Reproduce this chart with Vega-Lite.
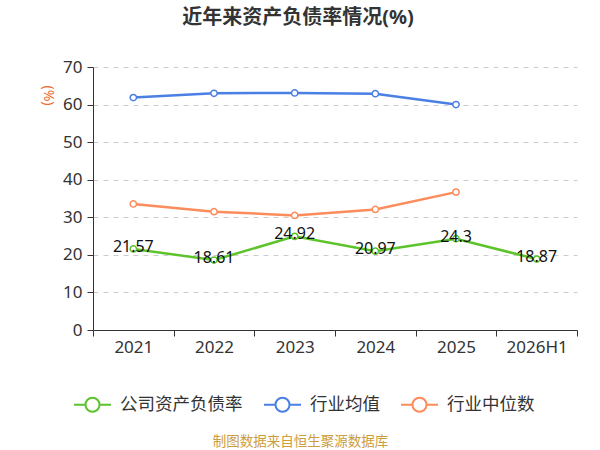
{
  "$schema": "https://vega.github.io/schema/vega-lite/v6.json",
  "autosize": "none",
  "width": 484,
  "height": 263,
  "padding": {"left": 93, "top": 67, "right": 23, "bottom": 120},
  "background": "white",
  "title": {
    "text": "近年来资产负债率情况(%)",
    "anchor": "middle",
    "frame": "group",
    "dx": -37,
    "offset": 30,
    "fontSize": 20,
    "fontWeight": "bold",
    "color": "#333333"
  },
  "data": {
    "values": [
      {"year": "2021", "series": "公司资产负债率", "value": 21.57},
      {"year": "2022", "series": "公司资产负债率", "value": 18.61},
      {"year": "2023", "series": "公司资产负债率", "value": 24.92},
      {"year": "2024", "series": "公司资产负债率", "value": 20.97},
      {"year": "2025", "series": "公司资产负债率", "value": 24.3},
      {"year": "2026H1", "series": "公司资产负债率", "value": 18.87},
      {"year": "2021", "series": "行业均值", "value": 61.86},
      {"year": "2022", "series": "行业均值", "value": 63.0},
      {"year": "2023", "series": "行业均值", "value": 63.1},
      {"year": "2024", "series": "行业均值", "value": 62.9},
      {"year": "2025", "series": "行业均值", "value": 60.0},
      {"year": "2021", "series": "行业中位数", "value": 33.55},
      {"year": "2022", "series": "行业中位数", "value": 31.5},
      {"year": "2023", "series": "行业中位数", "value": 30.5},
      {"year": "2024", "series": "行业中位数", "value": 32.1},
      {"year": "2025", "series": "行业中位数", "value": 36.7}
    ]
  },
  "encoding": {
    "x": {
      "field": "year",
      "type": "ordinal",
      "sort": ["2021", "2022", "2023", "2024", "2025", "2026H1"],
      "scale": {"type": "band", "paddingInner": 0, "paddingOuter": 0},
      "axis": {
        "title": "制图数据来自恒生聚源数据库",
        "titleX": 207,
        "titleY": 111,
        "titleAlign": "center",
        "titleBaseline": "middle",
        "titleAnchor": null,
        "titleColor": "#cc9d3e",
        "titleFontSize": 13.5,
        "titleFontWeight": "normal",
        "labelAngle": 0,
        "labelFontSize": 17,
        "labelColor": "#333333",
        "labelPadding": 3,
        "tickBand": "extent",
        "tickSize": 6,
        "tickColor": "#333333",
        "domainColor": "#333333",
        "grid": false
      }
    },
    "y": {
      "field": "value",
      "type": "quantitative",
      "scale": {"domain": [0, 70], "nice": false},
      "axis": {
        "title": "(%)",
        "titleAngle": 90,
        "titleX": -46,
        "titleY": 28,
        "titleAlign": "center",
        "titleBaseline": "middle",
        "titleAnchor": null,
        "titleColor": "#ee6a30",
        "titleFontSize": 14,
        "titleFontWeight": "normal",
        "values": [0, 10, 20, 30, 40, 50, 60, 70],
        "labelFontSize": 17,
        "labelColor": "#333333",
        "labelPadding": 5,
        "tickSize": 6,
        "tickColor": "#333333",
        "domainColor": "#333333",
        "grid": true,
        "gridColor": "#cccccc",
        "gridDash": [5, 5],
        "gridWidth": 1
      }
    }
  },
  "layer": [
    {
      "mark": {
        "type": "line",
        "strokeWidth": 2.5,
        "point": {"filled": false, "fill": "white", "size": 40, "strokeWidth": 1.5}
      },
      "encoding": {
        "color": {
          "field": "series",
          "type": "nominal",
          "scale": {
            "domain": ["公司资产负债率", "行业均值", "行业中位数"],
            "range": ["#5cc42a", "#4a7fe3", "#fd8c5c"]
          },
          "legend": {
            "title": null,
            "orient": "none",
            "direction": "horizontal",
            "columns": 3,
            "legendX": -20,
            "legendY": 318,
            "padding": 0,
            "columnPadding": 17,
            "symbolType": "M-1,0H-0.38M0.38,0H1M-0.38,0A0.38,0.38,0,1,1,0.38,0A0.38,0.38,0,1,1,-0.38,0Z",
            "symbolSize": 1369,
            "symbolStrokeWidth": 2,
            "symbolFillColor": "white",
            "labelFontSize": 17.5,
            "labelColor": "#333333",
            "labelOffset": 8
          }
        }
      }
    },
    {
      "transform": [{"filter": "datum.series === '公司资产负债率'"}],
      "mark": {"type": "text", "fontSize": 16, "color": "#111111", "baseline": "middle", "dy": -2},
      "encoding": {"text": {"field": "value", "type": "quantitative"}}
    }
  ],
  "config": {
    "font": "Noto Sans, Noto Sans CJK SC",
    "view": {"stroke": null}
  }
}
